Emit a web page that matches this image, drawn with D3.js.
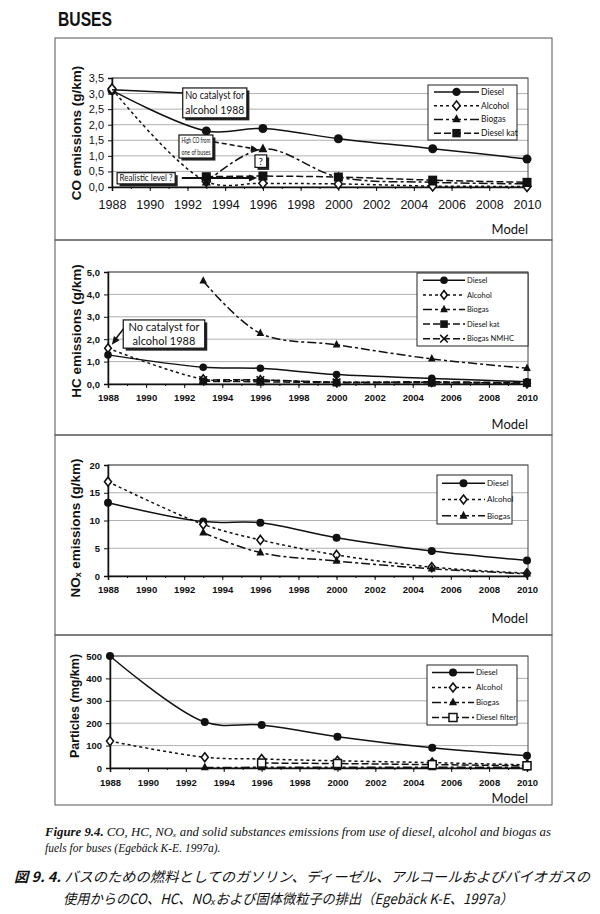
<!DOCTYPE html>
<html><head><meta charset="utf-8">
<title>Buses emissions</title>
<script src="https://cdn.jsdelivr.net/npm/d3@7"></script>
<style>
  body { margin: 0; background: #fff; }
  svg text { font-family: "Liberation Sans", Arial, sans-serif; fill: #111; }
  .frame { fill: none; stroke: #555; stroke-width: 1; }
  .plotbox { fill: none; stroke: #444; stroke-width: 1; }
  .grid line { stroke: #b0b0b0; stroke-width: 1; }
  .axis path, .axis line { stroke: #111; }
  .gill { font-family: Lato, "Open Sans", sans-serif; }
  .serif { font-family: "Liberation Serif", "DejaVu Serif", serif; font-style: italic; }
  .jp { font-family: "Noto Sans CJK JP", sans-serif; font-style: italic; }
</style>
</head>
<body>
<svg id="chart" width="600" height="914"></svg>

<script>
// ---- data ----
const years = [1988, 1993, 1996, 2000, 2005, 2010];

const coDiesel    = [3.1, 1.8, 1.88, 1.55, 1.23, 0.9];
const coAlcohol   = [3.15, 0.18, 0.12, 0.1, 0.03, 0.02];
const coBiogas    = [null, 0.15, 1.22, 0.32, 0.15, 0.1];
const coDieselKat = [null, 0.33, 0.35, 0.32, 0.22, 0.15];
const coTicks = [0, 0.5, 1, 1.5, 2, 2.5, 3, 3.5];

const hcDiesel     = [1.3, 0.75, 0.7, 0.42, 0.25, 0.1];
const hcAlcohol    = [1.6, 0.22, 0.18, 0.08, 0.08, 0.02];
const hcBiogas     = [null, 4.6, 2.26, 1.75, 1.12, 0.7];
const hcDieselKat  = [null, 0.12, 0.1, 0.06, 0.05, 0.04];
const hcBiogasNmhc = [null, 0.18, 0.18, 0.08, 0.1, 0.05];
const hcTicks = [0, 1, 2, 3, 4, 5];

const noxDiesel  = [13.2, 9.8, 9.6, 6.9, 4.5, 2.8];
const noxAlcohol = [17, 9.3, 6.5, 3.8, 1.6, 0.5];
const noxBiogas  = [null, 7.8, 4.2, 2.7, 1.3, 0.4];
const noxTicks = [0, 5, 10, 15, 20];

const pmDiesel       = [500, 205, 192, 140, 90, 55];
const pmAlcohol      = [120, 48, 40, 32, 24, 14];
const pmBiogas       = [null, 2, 3, 3, 3, 3];
const pmDieselFilter = [null, null, 22, 20, 15, 10];
const pmTicks = [0, 100, 200, 300, 400, 500];

const xMajor = d3.range(1988, 2011, 2);
const xMinor = d3.range(1988, 2011, 1);

// line styles per fuel
const styles = {
  "Diesel":      { dash: null,       marker: "circle" },
  "Alcohol":     { dash: "3,3",      marker: "diamond" },
  "Biogas":      { dash: "9,3,3,3",  marker: "triangle" },
  "Diesel kat":  { dash: "7,3",      marker: "square" },
  "Biogas NMHC": { dash: "7,3",      marker: "x" },
  "Diesel filter": { dash: "7,3",    marker: "opensquare" }
};

const svg = d3.select("#chart");
const commaFmt = d => d.toFixed(1).replace(".", ",");

// ---- helpers ----
function drawMarker(g, type, x, y, s) {
  if (type === "circle") {
    g.append("circle").attr("cx", x).attr("cy", y).attr("r", s).attr("fill", "#111");
  } else if (type === "diamond") {
    g.append("path").attr("d", `M${x},${y-s-0.5}L${x+s-0.5},${y}L${x},${y+s+0.5}L${x-s+0.5},${y}Z`)
      .attr("fill", "#fff").attr("stroke", "#111").attr("stroke-width", 1.6);
  } else if (type === "triangle") {
    g.append("path").attr("d", `M${x},${y-s-1}L${x+s},${y+s*0.7}L${x-s},${y+s*0.7}Z`).attr("fill", "#111");
  } else if (type === "square") {
    g.append("rect").attr("x", x-s).attr("y", y-s).attr("width", 2*s).attr("height", 2*s).attr("fill", "#111");
  } else if (type === "opensquare") {
    g.append("rect").attr("x", x-s).attr("y", y-s).attr("width", 2*s).attr("height", 2*s)
      .attr("fill", "#fff").attr("stroke", "#111").attr("stroke-width", 1.5);
  } else if (type === "x") {
    g.append("path").attr("d", `M${x-s},${y-s}L${x+s},${y+s}M${x+s},${y-s}L${x-s},${y+s}`)
      .attr("stroke", "#111").attr("stroke-width", 1.5);
  }
}

function arrowHead(g, x1, y1, x2, y2, size) {
  const a = Math.atan2(y2 - y1, x2 - x1);
  const p1 = [x2 - size*Math.cos(a - 0.4), y2 - size*Math.sin(a - 0.4)];
  const p2 = [x2 - size*Math.cos(a + 0.4), y2 - size*Math.sin(a + 0.4)];
  g.append("path").attr("d", `M${x2},${y2}L${p1[0]},${p1[1]}L${p2[0]},${p2[1]}Z`).attr("fill", "#111");
}

function noteBox(g, x0, y0, x1, y1, lines, fs, shadow) {
  if (shadow) {
    g.append("rect").attr("x", x0+2.5).attr("y", y0+2.5).attr("width", x1-x0).attr("height", y1-y0).attr("fill", "#222");
  }
  g.append("rect").attr("x", x0).attr("y", y0).attr("width", x1-x0).attr("height", y1-y0)
    .attr("fill", "#fff").attr("stroke", "#111").attr("stroke-width", 1.2);
  const lh = (y1 - y0) / lines.length;
  lines.forEach((t, i) => {
    const txt = g.append("text").attr("class", "gill")
      .attr("x", (x0 + x1) / 2).attr("y", y0 + lh*(i + 0.5) + fs*0.35)
      .attr("text-anchor", "middle").attr("font-size", fs).text(t);
    // squeeze text that would spill out of its box
    const room = x1 - x0 - 5;
    if (txt.node().getComputedTextLength() > room) {
      txt.attr("textLength", room).attr("lengthAdjust", "spacingAndGlyphs");
    }
  });
}

function drawPanel(p) {
  const x = d3.scaleLinear().domain([1988, 2010]).range([p.left, p.right]);
  const y = d3.scaleLinear().domain([0, p.yMax]).range([p.bottom, p.top]);
  const g = svg.append("g");

  // gridlines
  g.append("g").attr("class", "grid").selectAll("line")
    .data(p.yTicks.filter(t => t > 0))
    .join("line")
    .attr("x1", p.left).attr("x2", p.right + 1)
    .attr("y1", d => y(d)).attr("y2", d => y(d));
  g.append("rect").attr("class", "plotbox")
    .attr("x", p.left).attr("y", p.top).attr("width", p.right + 1 - p.left).attr("height", p.bottom - p.top);

  // y axis
  const yAxis = d3.axisLeft(y).tickValues(p.yTicks).tickSize(4).tickFormat(p.fmt);
  const ya = g.append("g").attr("class", "axis").attr("transform", `translate(${p.left},0)`).call(yAxis);
  ya.select(".domain").attr("stroke-width", 1.5);
  ya.selectAll("text").attr("font-size", p.yFont).attr("font-weight", p.tickWeight).attr("dx", -1);

  // x axis with yearly minor ticks
  const xa = g.append("g").attr("class", "axis").attr("transform", `translate(0,${p.bottom})`)
    .call(d3.axisBottom(x).tickValues(xMajor).tickSize(4).tickFormat(d3.format("d")));
  xa.select(".domain").attr("stroke-width", 1.5);
  xa.selectAll("text").attr("font-size", p.xFont).attr("font-weight", p.tickWeight).attr("dy", p.xDy);
  g.append("g").attr("class", "axis").attr("transform", `translate(0,${p.bottom})`)
    .call(d3.axisBottom(x).tickValues(xMinor).tickSize(2).tickFormat(""))
    .select(".domain").remove();

  // axis titles
  g.append("text")
    .attr("transform", `translate(${p.titleX},${p.titleY}) rotate(-90)`)
    .attr("text-anchor", "middle").attr("font-weight", "bold").attr("font-size", p.titleFont)
    .text(p.title);
  g.append("text").attr("class", "gill").attr("x", p.right + 1).attr("y", p.modelY)
    .attr("text-anchor", "end").attr("font-size", 13).text("Model");

  // series (later series drawn on top)
  const line = d3.line()
    .defined(d => d.v != null)
    .x(d => x(d.yr)).y(d => y(d.v))
    .curve(d3.curveCatmullRom.alpha(0.5));
  p.series.forEach(s => {
    const st = styles[s.name];
    const pts = years.map((yr, i) => ({ yr, v: s.values[i] })).filter(d => d.v != null);
    g.append("path").datum(pts)
      .attr("d", line).attr("fill", "none").attr("stroke", "#111")
      .attr("stroke-width", 1.5).attr("stroke-dasharray", st.dash);
    const mg = g.append("g");
    pts.forEach(d => drawMarker(mg, st.marker, x(d.yr), y(d.v), p.mSize));
  });

  // legend
  const L = p.legend;
  const lg = g.append("g");
  lg.append("rect").attr("x", L.x0).attr("y", L.y0).attr("width", L.x1 - L.x0).attr("height", L.y1 - L.y0)
    .attr("fill", "#fff").attr("stroke", "#222").attr("stroke-width", 1);
  const step = (L.y1 - L.y0) / p.series.length;
  p.series.forEach((s, i) => {
    const st = styles[s.name];
    const cy = L.y0 + step * (i + 0.5);
    lg.append("line").attr("x1", L.lx0).attr("x2", L.lx1).attr("y1", cy).attr("y2", cy)
      .attr("stroke", "#111").attr("stroke-width", 1.5).attr("stroke-dasharray", st.dash);
    drawMarker(lg, st.marker, (L.lx0 + L.lx1) / 2, cy, L.m);
    lg.append("text").attr("class", "gill").attr("x", L.lx1 + 2).attr("y", cy + L.fs * 0.35)
      .attr("font-size", L.fs).text(s.name);
  });

  return { g, x, y };
}

// ---- title and panel frames ----
svg.append("text").attr("x", 58).attr("y", 26).attr("font-family", "Lato, sans-serif")
  .attr("font-weight", 900).attr("font-size", 20).attr("textLength", 54).attr("lengthAdjust", "spacingAndGlyphs")
  .text("BUSES");

const frameEdges = [38, 240, 435, 635, 805];
frameEdges.slice(0, -1).forEach((t, i) => {
  svg.append("rect").attr("class", "frame").attr("x", 55).attr("y", t)
    .attr("width", 497).attr("height", frameEdges[i + 1] - t);
});

// ---- CO ----
const co = drawPanel({
  left: 112, right: 527, top: 78, bottom: 187, yMax: 3.5, yTicks: coTicks, fmt: commaFmt,
  yFont: 11, xFont: 12.5, xDy: "1.2em", tickWeight: "normal",
  title: "CO emissions (g/km)", titleX: 81, titleY: 133, titleFont: 13.5, modelY: 234, mSize: 4.5,
  series: [
    { name: "Diesel", values: coDiesel },
    { name: "Alcohol", values: coAlcohol },
    { name: "Biogas", values: coBiogas },
    { name: "Diesel kat", values: coDieselKat }
  ],
  legend: { x0: 428, x1: 517, y0: 85, y1: 140, lx0: 434, lx1: 479, m: 4.2, fs: 8.5 }
});
{
  const { g, x, y } = co;
  // pointer from the "no catalyst" note to the 1988 point
  g.append("line").attr("x1", x(1988)).attr("y1", y(3.12)).attr("x2", x(1991.8)).attr("y2", y(3.02))
    .attr("stroke", "#111").attr("stroke-width", 1.5);
  noteBox(g, x(1991.75), y(3.18), x(1995.15), y(2.22), ["No catalyst for", "alcohol 1988"], 11.5, true);
  // high CO note with dashed arrow to the 1996 biogas point
  g.append("line").attr("x1", x(1993.4)).attr("y1", y(1.45)).attr("x2", x(1995.6)).attr("y2", y(1.22))
    .attr("stroke", "#111").attr("stroke-width", 1.6).attr("stroke-dasharray", "5,3");
  arrowHead(g, x(1993.4), y(1.45), x(1995.75), y(1.2), 8);
  noteBox(g, x(1991.55), y(1.67), x(1993.35), y(0.93), ["High CO from", "one of buses"], 7, true);
  noteBox(g, x(1995.58), y(1.03), x(1996.2), y(0.63), ["?"], 10, true);
  // realistic level note with arrow
  g.append("line").attr("x1", x(1991.7)).attr("y1", y(0.29)).attr("x2", x(1995.3)).attr("y2", y(0.29))
    .attr("stroke", "#111").attr("stroke-width", 2);
  arrowHead(g, x(1991.7), y(0.29), x(1995.7), y(0.29), 9);
  noteBox(g, x(1988.27), y(0.46), x(1991.35), y(0.1), ["Realistic level ?"], 8.5, true);
}

// ---- HC ----
const hc = drawPanel({
  left: 108, right: 527, top: 272, bottom: 384, yMax: 5, yTicks: hcTicks, fmt: commaFmt,
  yFont: 9.5, xFont: 9.5, xDy: "1.05em", tickWeight: "bold",
  title: "HC emissions (g/km)", titleX: 81, titleY: 331, titleFont: 13.5, modelY: 429, mSize: 3.8,
  series: [
    { name: "Diesel", values: hcDiesel },
    { name: "Alcohol", values: hcAlcohol },
    { name: "Biogas", values: hcBiogas },
    { name: "Diesel kat", values: hcDieselKat },
    { name: "Biogas NMHC", values: hcBiogasNmhc }
  ],
  legend: { x0: 417, x1: 528, y0: 273, y1: 346, lx0: 423, lx1: 465, m: 3.8, fs: 7.5 }
});
{
  const { g, x, y } = hc;
  g.append("line").attr("x1", x(1989.1)).attr("y1", y(2.78)).attr("x2", x(1988.35)).attr("y2", y(1.95))
    .attr("stroke", "#111").attr("stroke-width", 1.5);
  arrowHead(g, x(1989.1), y(2.78), x(1988.2), y(1.75), 9);
  noteBox(g, x(1988.8), y(2.86), x(1993.08), y(1.6), ["No catalyst for", "alcohol 1988"], 11, true);
}

// ---- NOx ----
drawPanel({
  left: 108, right: 527, top: 465, bottom: 576, yMax: 20, yTicks: noxTicks, fmt: d3.format("d"),
  yFont: 9.5, xFont: 9.5, xDy: "1.05em", tickWeight: "bold",
  title: "NOₓ emissions (g/km)", titleX: 80, titleY: 528, titleFont: 13.5, modelY: 623, mSize: 4,
  series: [
    { name: "Diesel", values: noxDiesel },
    { name: "Alcohol", values: noxAlcohol },
    { name: "Biogas", values: noxBiogas }
  ],
  legend: { x0: 437, x1: 512, y0: 475, y1: 524, lx0: 442, lx1: 485, m: 4, fs: 8 }
});

// ---- Particles ----
drawPanel({
  left: 110, right: 527, top: 656, bottom: 768, yMax: 500, yTicks: pmTicks, fmt: d3.format("d"),
  yFont: 9.5, xFont: 9.5, xDy: "1.15em", tickWeight: "bold",
  title: "Particles (mg/km)", titleX: 79, titleY: 706, titleFont: 12.5, modelY: 803, mSize: 4,
  series: [
    { name: "Diesel", values: pmDiesel },
    { name: "Alcohol", values: pmAlcohol },
    { name: "Biogas", values: pmBiogas },
    { name: "Diesel filter", values: pmDieselFilter }
  ],
  legend: { x0: 427, x1: 517, y0: 665, y1: 725, lx0: 432, lx1: 474, m: 4, fs: 8 }
});

// ---- captions ----
const cap1 = svg.append("text").attr("class", "serif").attr("x", 45).attr("y", 836).attr("font-size", 11.5)
  .attr("textLength", 506).attr("lengthAdjust", "spacingAndGlyphs");
cap1.append("tspan").attr("font-weight", "bold").text("Figure 9.4.");
cap1.append("tspan").text(" CO, HC, NOₓ and solid substances emissions from use of diesel, alcohol and biogas as");
svg.append("text").attr("class", "serif").attr("x", 45).attr("y", 852).attr("font-size", 11.5)
  .text("fuels for buses (Egebäck K-E. 1997a).");

const jp1 = svg.append("text").attr("class", "jp").attr("x", 14).attr("y", 882).attr("font-size", 14)
  .attr("textLength", 576).attr("lengthAdjust", "spacingAndGlyphs");
jp1.append("tspan").attr("font-weight", "bold").text("図 9. 4. ");
jp1.append("tspan").text("バスのための燃料としてのガソリン、ディーゼル、アルコールおよびバイオガスの");
svg.append("text").attr("class", "jp").attr("x", 63).attr("y", 904).attr("font-size", 14)
  .attr("textLength", 450).attr("lengthAdjust", "spacingAndGlyphs")
  .text("使用からのCO、HC、NOₓおよび固体微粒子の排出（Egebäck K-E、1997a）");
</script>
</body>
</html>
